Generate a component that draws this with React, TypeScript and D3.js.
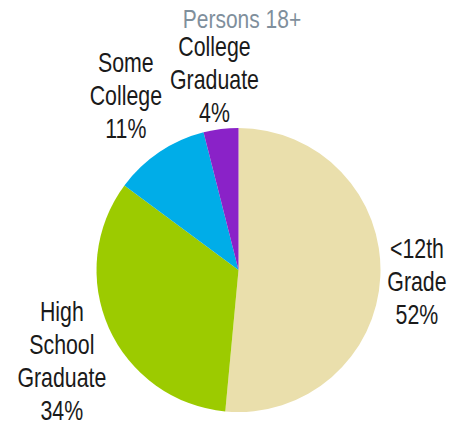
import { useEffect, useRef } from "react";
import * as d3 from "d3";

const WIDTH = 450;
const HEIGHT = 424;
const CENTER = { x: 238.5, y: 270 };
const RADIUS = 142;
const FONT = "'Liberation Sans', Arial, sans-serif";
const NARROW = 0.79; // the reference uses a condensed face; squeeze horizontally
const LABEL_SIZE = 27;
const LINE_HEIGHT = 33;
const CAP_HEIGHT = 19.5;
const LABEL_GAP = 7;
const LABEL_PAD = 8;

const title = "Persons 18+";
const categories = ["<12th Grade", "High School Graduate", "Some College", "College Graduate"];
const labelLines = [["<12th", "Grade"], ["High", "School", "Graduate"], ["Some", "College"], ["College", "Graduate"]];
const shares = [52, 34, 11, 4];
const colors = ["#eadfac", "#9ccb00", "#00ade8", "#8a22c8"];

type Slice = { name: string; value: number; lines: string[] };
type Box = { x0: number; x1: number; y0: number; y1: number };

export default function App() {
  const svgRef = useRef<SVGSVGElement | null>(null);

  useEffect(() => {
    if (!svgRef.current) return;
    const svg = d3.select(svgRef.current);
    svg.selectAll("*").remove();

    const data: Slice[] = categories.map((name, i) => ({
      name,
      value: shares[i],
      lines: [...labelLines[i], `${shares[i]}%`],
    }));

    const color = d3.scaleOrdinal<string, string>().domain(categories).range(colors);

    const pie = d3
      .pie<Slice>()
      .value((d) => d.value)
      .sort(null);

    const arc = d3.arc<d3.PieArcDatum<Slice>>().innerRadius(0).outerRadius(RADIUS);

    const arcs = pie(data);

    const g = svg.append("g").attr("transform", `translate(${CENTER.x},${CENTER.y})`);

    g.selectAll("path")
      .data(arcs)
      .enter()
      .append("path")
      .attr("d", arc)
      .attr("fill", (d) => color(d.data.name));

    // title
    svg
      .append("g")
      .attr("transform", `translate(242,28) scale(0.84,1)`)
      .append("text")
      .attr("text-anchor", "middle")
      .attr("fill", "#7f8f9c")
      .style("font-family", FONT)
      .style("font-size", "25px")
      .text(title);

    // outside-end labels: text block sits next to the rim at the mid angle,
    // smaller slices are placed first and the others get pushed out on overlap
    const placed: Box[] = [];
    const overlaps = (b: Box) =>
      placed.some(
        (p) =>
          b.x0 < p.x1 + LABEL_PAD &&
          b.x1 + LABEL_PAD > p.x0 &&
          b.y0 < p.y1 &&
          b.y1 > p.y0,
      );

    [...arcs].reverse().forEach((d) => {
      const node = g.append("g").attr("class", "label");
      const text = node
        .append("text")
        .attr("transform", `scale(${NARROW},1)`)
        .attr("text-anchor", "middle")
        .attr("fill", "#1a1a1a")
        .style("font-family", FONT)
        .style("font-size", `${LABEL_SIZE}px`);

      d.data.lines.forEach((line, i) => {
        text.append("tspan").attr("x", 0).attr("y", i * LINE_HEIGHT).text(line);
      });

      const bbox = (text.node() as SVGTextElement).getBBox();
      const halfW = (bbox.width * NARROW) / 2;
      const halfH = ((d.data.lines.length - 1) * LINE_HEIGHT + CAP_HEIGHT) / 2;

      const mid = (d.startAngle + d.endAngle) / 2;
      const ux = Math.sin(mid);
      const uy = -Math.cos(mid);
      const sy = Math.sign(uy) * Math.pow(Math.abs(uy), 0.75);

      let rr = RADIUS + LABEL_GAP;
      let cx = 0;
      let cy = 0;
      let box: Box;
      do {
        cx = rr * ux + halfW * ux;
        cy = rr * uy + halfH * sy;
        box = { x0: cx - halfW, x1: cx + halfW, y0: cy - halfH, y1: cy + halfH };
        rr += 1;
      } while (overlaps(box) && rr < RADIUS + 120);
      placed.push(box);

      node.attr("transform", `translate(${cx},${cy - halfH + CAP_HEIGHT})`);
    });
  }, []);

  return (
    <svg
      ref={svgRef}
      width={WIDTH}
      height={HEIGHT}
      style={{ position: "absolute", left: 0, top: 0, background: "#fff" }}
    />
  );
}
